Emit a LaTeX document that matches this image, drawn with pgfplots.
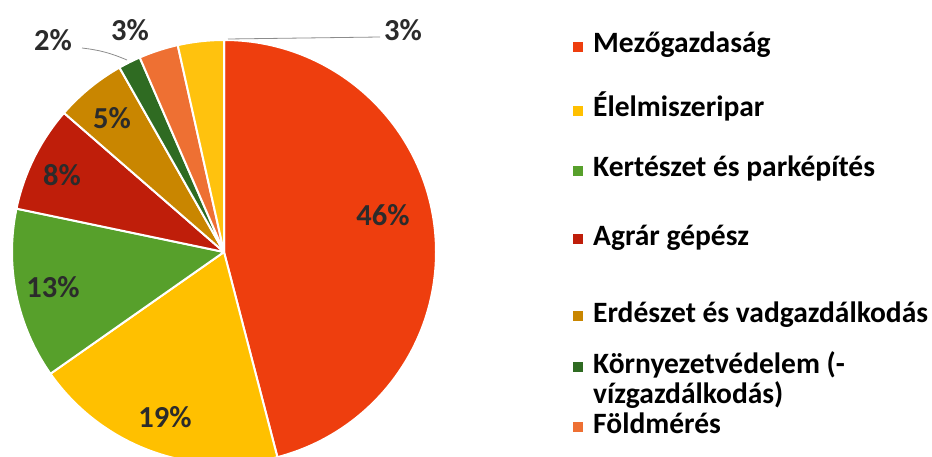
\documentclass[border=0pt]{standalone}
\usepackage{pgfplots}
\usepackage{pgfplotstable}
\pgfplotsset{compat=1.18}
\usepackage{fontspec}
\setmainfont{Carlito}

\definecolor{pc0}{HTML}{EE3E0E}
\definecolor{pc1}{HTML}{FFC000}
\definecolor{pc2}{HTML}{57A02B}
\definecolor{pc3}{HTML}{BF1E0A}
\definecolor{pc4}{HTML}{C98600}
\definecolor{pc5}{HTML}{2F6B22}
\definecolor{pc6}{HTML}{EE7033}
\definecolor{pc7}{HTML}{FFC20E}
\definecolor{labgrey}{HTML}{2B2B2B}

% share, printed label, label position (px from left, px from top)
\pgfplotstableread{
value label lx  ly
45.9  46    383 215
19.3  19    165 417
13.0  13    53  287
8.1   8     62  175
5.4   5     112 118
1.7   2     53  40
3.0   3     130 30
3.5   3     403 30
}\piedata

\newcommand\labfont{\bfseries\fontsize{30.5}{30.5}\selectfont}
\newcommand\legfont{\bfseries\fontsize{29.5}{29.5}\selectfont}

\begin{document}
\begin{tikzpicture}
% running angles, clockwise from the top
\gdef\pietotal{0}%
\foreach \i in {0,...,7}{%
  \pgfplotstablegetelem{\i}{value}\of\piedata
  \pgfmathsetmacro\t{\pietotal+\pgfplotsretval}%
  \xdef\pietotal{\t}%
}%
\gdef\acc{0}%
\foreach \i in {0,...,7}{%
  \pgfplotstablegetelem{\i}{value}\of\piedata
  \pgfmathsetmacro\a{90-\acc/\pietotal*360}%
  \pgfmathsetmacro\b{90-(\acc+\pgfplotsretval)/\pietotal*360}%
  \pgfmathsetmacro\n{\acc+\pgfplotsretval}%
  \expandafter\xdef\csname sa\i\endcsname{\a}%
  \expandafter\xdef\csname sb\i\endcsname{\b}%
  \xdef\acc{\n}%
  \pgfplotstablegetelem{\i}{label}\of\piedata
  \expandafter\xdef\csname sl\i\endcsname{\pgfplotsretval}%
  \pgfplotstablegetelem{\i}{lx}\of\piedata
  \expandafter\xdef\csname lx\i\endcsname{\pgfplotsretval}%
  \pgfplotstablegetelem{\i}{ly}\of\piedata
  \pgfmathsetmacro\yy{456-\pgfplotsretval}%
  \expandafter\xdef\csname ly\i\endcsname{\yy}%
}%
\begin{axis}[
  at={(0,0)}, anchor=south west,
  width=932pt, height=456pt, scale only axis,
  xmin=0, xmax=932, ymin=0, ymax=456,
  hide axis, clip=true,
]
\pgfplotsinvokeforeach{0,...,7}{
  \fill[pc#1, draw=white, line width=2pt, line join=round]
    (axis cs:224,204) -- ++(\csname sa#1\endcsname:212pt)
    arc[start angle=\csname sa#1\endcsname, end angle=\csname sb#1\endcsname, radius=212pt] -- cycle;
}
% leader lines
\draw[black!45, line width=0.8pt] (axis cs:82,408) to[bend left=8] (axis cs:127,396);
\draw[black!45, line width=0.8pt] (axis cs:228,417) -- (axis cs:380,419);
\pgfplotsinvokeforeach{0,...,7}{
  \node[text=labgrey, font=\labfont, inner sep=0pt]
    at (axis cs:\csname lx#1\endcsname,\csname ly#1\endcsname) {\csname sl#1\endcsname\%};
}
% legend
\newcommand\legsq[1]{\textcolor{#1}{\rule[1pt]{10pt}{10pt}}\hspace{10pt}}
\begin{scope}[every node/.style={anchor=base west, inner sep=0pt, font=\legfont}]
\node at (axis cs:573,403) {\legsq{pc0}Mezőgazdaság};
\node at (axis cs:573,339) {\legsq{pc1}Élelmiszeripar};
\node at (axis cs:573,279) {\legsq{pc2}Kertészet és parképítés};
\node at (axis cs:573,211) {\legsq{pc3}Agrár gépész};
\node at (axis cs:573,134) {\legsq{pc4}Erdészet és vadgazdálkodás};
\node at (axis cs:573,83)  {\legsq{pc5}Környezetvédelem (-};
\node at (axis cs:593,53)  {vízgazdálkodás)};
\node at (axis cs:573,23)  {\legsq{pc6}Földmérés};
\end{scope}
\end{axis}
\pgfresetboundingbox
\path[use as bounding box] (0,0) rectangle (932pt,456pt);
\end{tikzpicture}
\end{document}
